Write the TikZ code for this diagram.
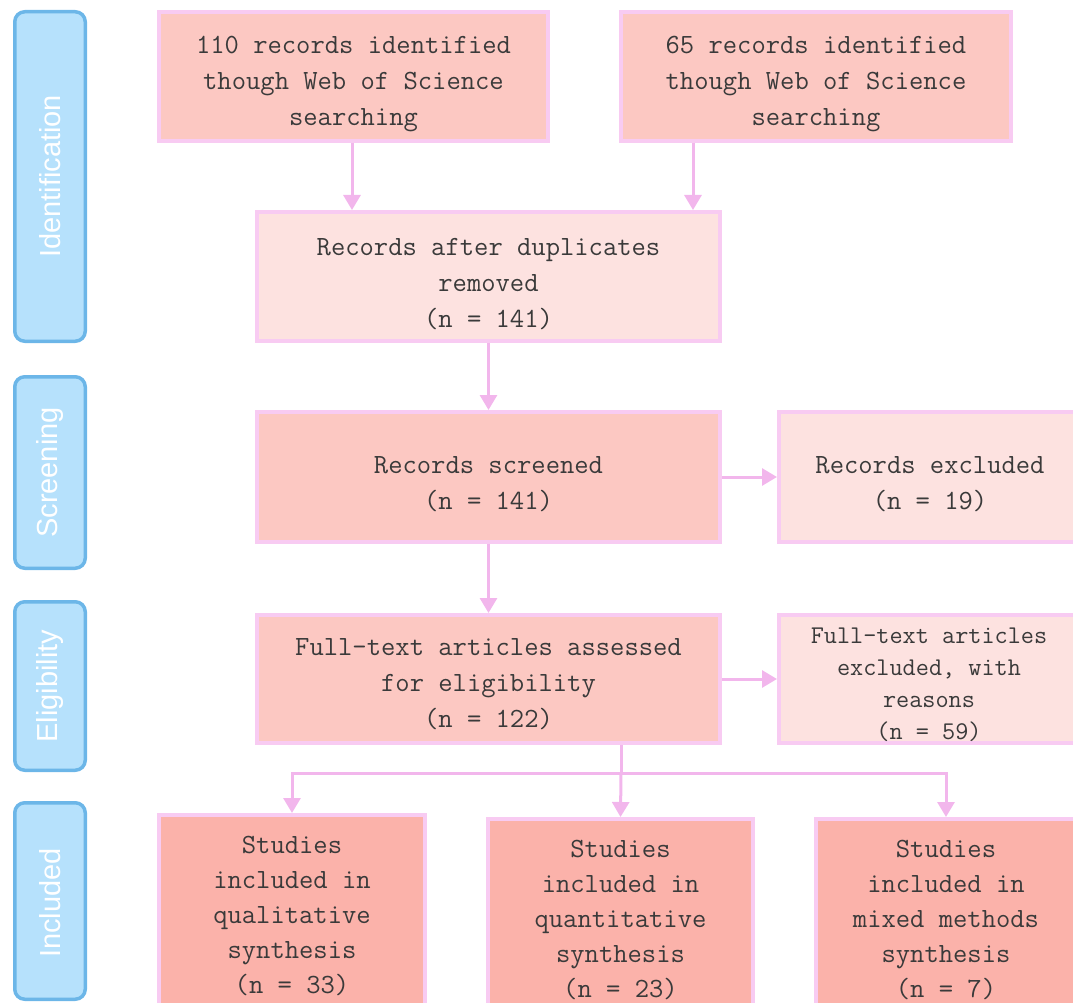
\documentclass[tikz,border=0pt]{standalone}
\usepackage{fontspec}
\setmainfont{Liberation Sans}
\usetikzlibrary{arrows.meta}
\definecolor{sidefill}{HTML}{B6E1FC}
\definecolor{sideedge}{HTML}{6CB6E8}
\definecolor{band}{HTML}{F8CBF2}
\definecolor{fillA}{HTML}{FCC8C2}
\definecolor{fillB}{HTML}{FDE2E0}
\definecolor{fillC}{HTML}{FBB2AA}
\definecolor{arrowpink}{HTML}{F2B6EC}
\definecolor{txt}{HTML}{3A3A3A}
\tikzset{
  side/.style={draw=sideedge, line width=3.5pt, fill=sidefill, rounded corners=10pt,
    minimum width=70.5pt, inner sep=0pt},
  sidelabel/.style={text=white, rotate=90, font=\fontsize{29}{29}\selectfont, inner sep=0pt},
  box/.style={draw=band, line width=4pt, inner sep=0pt},
  lbl/.style={text=txt, align=center, inner sep=0pt, yshift=-3pt,
    font=\ttfamily\fontsize{27.8}{36}\selectfont},
  smalllbl/.style={lbl, font=\ttfamily\fontsize{25.5}{32}\selectfont},
  inclbl/.style={lbl, font=\ttfamily\fontsize{27.8}{35}\selectfont},
  link/.style={draw=arrowpink, line width=3pt},
  arr/.style={link, -{Triangle[width=17pt,length=15pt]}},
}
\begin{document}
\begin{tikzpicture}[x=1pt,y=-1pt]
\useasboundingbox (0,0) rectangle (1073,1003);
% sidebar
\node[side, minimum height=329.5pt] (sid) at (50,176.5) {};
\node[sidelabel] (sidt) at (50,176.5) {Identification};
\node[side, minimum height=191.5pt] (sscr) at (50,472.5) {};
\node[sidelabel] (sscrt) at (50,472.5) {Screening};
\node[side, minimum height=168.5pt] (seli) at (50,686) {};
\node[sidelabel] (selit) at (50,686) {Eligibility};
\node[side, minimum height=196.5pt] (sinc) at (50,901) {};
\node[sidelabel] (sinct) at (50,903) {Included};
% boxes
\node[box, fill=fillA, minimum width=389pt, minimum height=129pt] (b1) at (353.5,76.5) {};
\node[lbl] (b1t) at (353.5,81) {110 records identified\\though Web of Science\\searching};
\node[box, fill=fillA, minimum width=390pt, minimum height=129pt] (b2) at (816,76.5) {};
\node[lbl] (b2t) at (816,81) {65 records identified\\though Web of Science\\searching};
\node[box, fill=fillB, minimum width=463pt, minimum height=129pt] (dup) at (488.5,276.5) {};
\node[lbl] (dupt) at (488.5,281.5) {Records after duplicates\\removed\\(n = 141)};
\node[box, fill=fillA, minimum width=463pt, minimum height=130pt] (scr) at (488.5,477) {};
\node[lbl] (scrt) at (488.5,481) {Records screened\\(n = 141)};
\node[box, fill=fillB, minimum width=297pt, minimum height=130pt] (exc) at (927.5,477) {};
\node[lbl] (exct) at (930,481) {Records excluded\\(n = 19)};
\node[box, fill=fillA, minimum width=463pt, minimum height=128pt] (ass) at (488.5,679) {};
\node[lbl] (asst) at (488.5,681.5) {Full-text articles assessed\\for eligibility\\(n = 122)};
\node[box, fill=fillB, minimum width=297pt, minimum height=128pt] (ftx) at (927.5,679) {};
\node[smalllbl] (ftxt) at (929,681.5) {Full-text articles\\excluded, with\\reasons\\(n = 59)};
\node[box, fill=fillC, minimum width=266pt, minimum height=193pt] (incA) at (292,911.5) {};
\node[inclbl] (incAt) at (292,913) {Studies\\included in\\qualitative\\synthesis\\(n = 33)};
\node[box, fill=fillC, minimum width=265pt, minimum height=189pt] (incB) at (620.5,913.5) {};
\node[inclbl] (incBt) at (620.5,917) {Studies\\included in\\quantitative\\synthesis\\(n = 23)};
\node[box, fill=fillC, minimum width=260pt, minimum height=189pt] (incC) at (946,913.5) {};
\node[inclbl] (incCt) at (946,917) {Studies\\included in\\mixed methods\\synthesis\\(n = 7)};
% connectors
\coordinate (c1) at (352,0);
\coordinate (c2) at (693,0);
\coordinate (j) at (621,773);
\draw[arr] (b1.south -| c1) -- (dup.north -| c1);
\draw[arr] (b2.south -| c2) -- (dup.north -| c2);
\draw[arr] (dup.south) -- (scr.north);
\draw[arr] (scr.east) -- (exc.west);
\draw[arr] (scr.south) -- (ass.north);
\draw[arr] (ass.east) -- (ftx.west);
\draw[link] (ass.south -| j) -- (j);
\draw[arr] (j) -| (incA.north);
\draw[arr] (j) -| (incC.north);
\draw[arr] (j) -- (incB.north);
\end{tikzpicture}
\end{document}
